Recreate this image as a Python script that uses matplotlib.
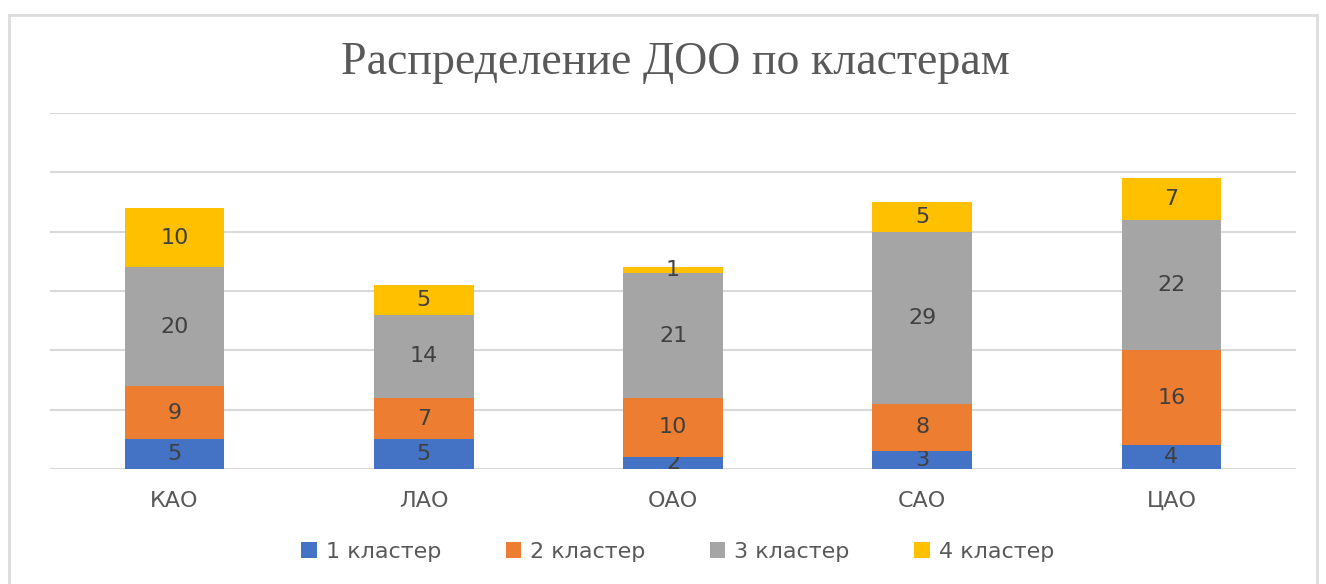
import numpy as np
import matplotlib.pyplot as plt
from matplotlib.patches import Rectangle

districts = ['КАО', 'ЛАО', 'ОАО', 'САО', 'ЦАО']
series_names = ['1 кластер', '2 кластер', '3 кластер', '4 кластер']
cluster1 = [5, 5, 2, 3, 4]
cluster2 = [9, 7, 10, 8, 16]
cluster3 = [20, 14, 21, 29, 22]
cluster4 = [10, 5, 1, 5, 7]
colors = ['#4472C4', '#ED7D31', '#A5A5A5', '#FFC000']

plt.rcParams['font.family'] = ['DejaVu Sans']

fig = plt.figure(figsize=(13.26, 5.84), dpi=100)
# light frame around the chart area
fig.patches.append(Rectangle((0.007, -0.01), 0.986, 0.985, transform=fig.transFigure,
                             fill=False, edgecolor='#DDDDDD', linewidth=2))
ax = fig.add_axes([0.0377, 0.1969, 0.9397, 0.6096])

x = np.arange(len(districts))
bottom = np.zeros(len(districts))
for name, vals, col in zip(series_names, [cluster1, cluster2, cluster3, cluster4], colors):
    bars = ax.bar(x, vals, width=0.4, bottom=bottom, color=col, label=name, zorder=3)
    ax.bar_label(bars, labels=[str(v) for v in vals], label_type='center',
                 fontsize=16, color='#404040')
    bottom += np.array(vals)

ax.set_xlim(-0.5, len(districts) - 0.5)
ax.set_ylim(0, 60)
ax.set_yticks(np.arange(0, 61, 10))
ax.yaxis.grid(True, color='#D9D9D9', linewidth=1.5, zorder=0)
ax.tick_params(axis='y', left=False, labelleft=False)
ax.tick_params(axis='x', bottom=False, labelsize=16, labelcolor='#595959', pad=12)
ax.set_xticks(x)
ax.set_xticklabels(districts)
for s in ax.spines.values():
    s.set_visible(False)

fig.text(0.509, 0.893, 'Распределение ДОО по кластерам', ha='center', va='center',
         fontsize=33, color='#595959', family=['Liberation Serif'])

fig.legend(loc='center', bbox_to_anchor=(0.511, 0.055), ncol=4, frameon=False,
           fontsize=16, labelcolor='#595959', handlelength=0.7, handleheight=0.7,
           handletextpad=0.4, columnspacing=2.9)

plt.savefig('out.png', dpi=100)
